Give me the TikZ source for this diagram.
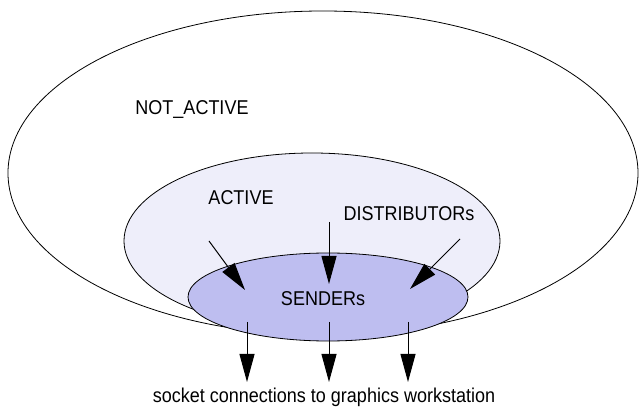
\documentclass[tikz,border=0pt]{standalone}
\usepackage{fontspec}
\setmainfont{Liberation Sans}
\usetikzlibrary{arrows.meta}
\definecolor{activefill}{RGB}{238,238,250}
\definecolor{senderfill}{RGB}{190,190,240}
\begin{document}
\begin{tikzpicture}[x=1pt,y=-1pt,
  region/.style={draw=black,line width=0.8pt},
  lbl/.style={font=\fontsize{20}{24}\selectfont,inner sep=0pt,anchor=base,xscale=0.9},
  flow/.style={line width=1pt,-{Triangle[length=28pt,width=15pt]}}]
\useasboundingbox (0,0) rectangle (640,411);
% nested state regions
\draw[region,fill=white] (323,173) ellipse [x radius=315,y radius=162];
\draw[region,fill=activefill] (312,241) ellipse [x radius=188,y radius=88];
\draw[region,fill=senderfill] (328,297) ellipse [x radius=140,y radius=44];
% labels
\node[lbl] (notactive) at (192,115) {NOT\_ACTIVE};
\node[lbl] (active) at (241,205) {ACTIVE};
\node[lbl] (distrib) at (409,221) {DISTRIBUTORs};
\node[lbl] (senders) at (323,306) {SENDERs};
\node[lbl] (sock) at (324,403) {socket connections to graphics workstation};
% distributor arrows into the sender region
\coordinate (d1) at (209,241);
\coordinate (d2) at (329,222);
\coordinate (d3) at (460,239);
\coordinate (s1) at (245,290);
\coordinate (s2) at (329,284);
\coordinate (s3) at (410,289);
\draw[flow] (d1) -- (s1);
\draw[flow] (d2) -- (s2);
\draw[flow] (d3) -- (s3);
% socket connection arrows out of the sender region
\coordinate (o1) at (247,322);
\coordinate (o2) at (329,322);
\coordinate (o3) at (408,322);
\coordinate (t1) at (247,382);
\coordinate (t2) at (329,382);
\coordinate (t3) at (408,382);
\draw[flow] (o1) -- (t1);
\draw[flow] (o2) -- (t2);
\draw[flow] (o3) -- (t3);
\end{tikzpicture}
\end{document}
